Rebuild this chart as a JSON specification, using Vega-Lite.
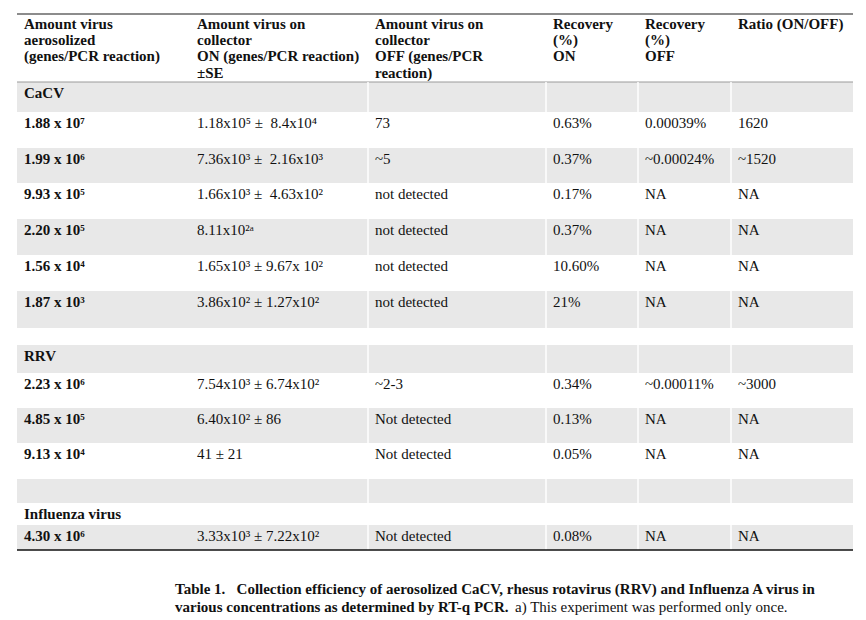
{
  "$schema": "https://vega.github.io/schema/vega-lite/v6.json",
  "width": 866,
  "height": 620,
  "padding": 0,
  "autosize": {"type": "none"},
  "background": "white",
  "config": {"view": {"stroke": null}},
  "datasets": {
    "cells": [
      {"row": 0, "col": 0, "kind": "header", "text": "Amount virus\naerosolized\n(genes/PCR reaction)"},
      {"row": 0, "col": 1, "kind": "header", "text": "Amount virus on\ncollector\nON (genes/PCR reaction)\n±SE"},
      {"row": 0, "col": 2, "kind": "header", "text": "Amount virus on\ncollector\nOFF (genes/PCR\nreaction)"},
      {"row": 0, "col": 3, "kind": "header", "text": "Recovery\n(%)\nON"},
      {"row": 0, "col": 4, "kind": "header", "text": "Recovery\n(%)\nOFF"},
      {"row": 0, "col": 5, "kind": "header", "text": "Ratio (ON/OFF)"},
      {"row": 1, "col": 0, "kind": "section", "text": "CaCV"},
      {"row": 2, "col": 0, "kind": "amount", "text": "1.88 x 10⁷"},
      {"row": 2, "col": 1, "kind": "value", "text": "1.18x10⁵ ±\u00a0 8.4x10⁴"},
      {"row": 2, "col": 2, "kind": "value", "text": "73"},
      {"row": 2, "col": 3, "kind": "value", "text": "0.63%"},
      {"row": 2, "col": 4, "kind": "value", "text": "0.00039%"},
      {"row": 2, "col": 5, "kind": "value", "text": "1620"},
      {"row": 3, "col": 0, "kind": "amount", "text": "1.99 x 10⁶"},
      {"row": 3, "col": 1, "kind": "value", "text": "7.36x10³ ±\u00a0 2.16x10³"},
      {"row": 3, "col": 2, "kind": "value", "text": "~5"},
      {"row": 3, "col": 3, "kind": "value", "text": "0.37%"},
      {"row": 3, "col": 4, "kind": "value", "text": "~0.00024%"},
      {"row": 3, "col": 5, "kind": "value", "text": "~1520"},
      {"row": 4, "col": 0, "kind": "amount", "text": "9.93 x 10⁵"},
      {"row": 4, "col": 1, "kind": "value", "text": "1.66x10³ ±\u00a0 4.63x10²"},
      {"row": 4, "col": 2, "kind": "value", "text": "not detected"},
      {"row": 4, "col": 3, "kind": "value", "text": "0.17%"},
      {"row": 4, "col": 4, "kind": "value", "text": "NA"},
      {"row": 4, "col": 5, "kind": "value", "text": "NA"},
      {"row": 5, "col": 0, "kind": "amount", "text": "2.20 x 10⁵"},
      {"row": 5, "col": 1, "kind": "value", "text": "8.11x10²ᵃ"},
      {"row": 5, "col": 2, "kind": "value", "text": "not detected"},
      {"row": 5, "col": 3, "kind": "value", "text": "0.37%"},
      {"row": 5, "col": 4, "kind": "value", "text": "NA"},
      {"row": 5, "col": 5, "kind": "value", "text": "NA"},
      {"row": 6, "col": 0, "kind": "amount", "text": "1.56 x 10⁴"},
      {"row": 6, "col": 1, "kind": "value", "text": "1.65x10³ ± 9.67x 10²"},
      {"row": 6, "col": 2, "kind": "value", "text": "not detected"},
      {"row": 6, "col": 3, "kind": "value", "text": "10.60%"},
      {"row": 6, "col": 4, "kind": "value", "text": "NA"},
      {"row": 6, "col": 5, "kind": "value", "text": "NA"},
      {"row": 7, "col": 0, "kind": "amount", "text": "1.87 x 10³"},
      {"row": 7, "col": 1, "kind": "value", "text": "3.86x10² ± 1.27x10²"},
      {"row": 7, "col": 2, "kind": "value", "text": "not detected"},
      {"row": 7, "col": 3, "kind": "value", "text": "21%"},
      {"row": 7, "col": 4, "kind": "value", "text": "NA"},
      {"row": 7, "col": 5, "kind": "value", "text": "NA"},
      {"row": 9, "col": 0, "kind": "section", "text": "RRV"},
      {"row": 10, "col": 0, "kind": "amount", "text": "2.23 x 10⁶"},
      {"row": 10, "col": 1, "kind": "value", "text": "7.54x10³ ± 6.74x10²"},
      {"row": 10, "col": 2, "kind": "value", "text": "~2-3"},
      {"row": 10, "col": 3, "kind": "value", "text": "0.34%"},
      {"row": 10, "col": 4, "kind": "value", "text": "~0.00011%"},
      {"row": 10, "col": 5, "kind": "value", "text": "~3000"},
      {"row": 11, "col": 0, "kind": "amount", "text": "4.85 x 10⁵"},
      {"row": 11, "col": 1, "kind": "value", "text": "6.40x10² ± 86"},
      {"row": 11, "col": 2, "kind": "value", "text": "Not detected"},
      {"row": 11, "col": 3, "kind": "value", "text": "0.13%"},
      {"row": 11, "col": 4, "kind": "value", "text": "NA"},
      {"row": 11, "col": 5, "kind": "value", "text": "NA"},
      {"row": 12, "col": 0, "kind": "amount", "text": "9.13 x 10⁴"},
      {"row": 12, "col": 1, "kind": "value", "text": "41 ± 21"},
      {"row": 12, "col": 2, "kind": "value", "text": "Not detected"},
      {"row": 12, "col": 3, "kind": "value", "text": "0.05%"},
      {"row": 12, "col": 4, "kind": "value", "text": "NA"},
      {"row": 12, "col": 5, "kind": "value", "text": "NA"},
      {"row": 14, "col": 0, "kind": "section", "text": "Influenza virus"},
      {"row": 15, "col": 0, "kind": "amount", "text": "4.30 x 10⁶"},
      {"row": 15, "col": 1, "kind": "value", "text": "3.33x10³ ± 7.22x10²"},
      {"row": 15, "col": 2, "kind": "value", "text": "Not detected"},
      {"row": 15, "col": 3, "kind": "value", "text": "0.08%"},
      {"row": 15, "col": 4, "kind": "value", "text": "NA"},
      {"row": 15, "col": 5, "kind": "value", "text": "NA"}
    ],
    "shaded": [{"row": 1}, {"row": 3}, {"row": 5}, {"row": 7}, {"row": 9}, {"row": 11}, {"row": 13}, {"row": 15}],
    "separators": [{"col": 2}, {"col": 3}, {"col": 4}, {"col": 5}],
    "caption": [
      {"row": 17, "part": "bold", "text": "Table 1.\u00a0\u00a0\u00a0Collection efficiency of aerosolized CaCV, rhesus rotavirus (RRV) and Influenza A virus in"},
      {"row": 18, "part": "bold", "text": "various concentrations as determined by RT-q PCR."},
      {"row": 18, "part": "regular", "text": "a) This experiment was performed only once."}
    ],
    "one": [{}]
  },
  "layer": [
    {
      "data": {"name": "shaded"},
      "transform": [{"calculate": "datum.row + 1", "as": "rowEnd"}],
      "mark": {"type": "rect", "color": "#e8e8e8"},
      "encoding": {
        "x": {"datum": 0, "type": "quantitative", "scale": {"domain": [0, 1, 2, 3, 4, 5, 6], "range": [17, 190, 368, 546, 638, 731, 853], "nice": false, "zero": false}, "axis": null},
        "x2": {"datum": 6},
        "y": {"field": "row", "type": "quantitative", "scale": {"domain": [0, 1, 2, 3, 4, 5, 6, 7, 8, 9, 10, 11, 12, 13, 14, 15, 16, 17, 18], "range": [15, 82, 112, 148, 183, 219, 255, 291, 328, 345, 373, 408, 443, 479, 503, 525, 550, 578, 596], "nice": false, "zero": false}, "axis": null},
        "y2": {"field": "rowEnd"}
      }
    },
    {
      "data": {"name": "one"},
      "mark": {"type": "rule", "color": "#8c8c8c", "strokeWidth": 2, "yOffset": -1},
      "encoding": {
        "x": {"datum": 0, "type": "quantitative", "scale": {"domain": [0, 1, 2, 3, 4, 5, 6], "range": [17, 190, 368, 546, 638, 731, 853], "nice": false, "zero": false}, "axis": null},
        "x2": {"datum": 6},
        "y": {"datum": 0, "type": "quantitative", "scale": {"domain": [0, 1, 2, 3, 4, 5, 6, 7, 8, 9, 10, 11, 12, 13, 14, 15, 16, 17, 18], "range": [15, 82, 112, 148, 183, 219, 255, 291, 328, 345, 373, 408, 443, 479, 503, 525, 550, 578, 596], "nice": false, "zero": false}, "axis": null}
      }
    },
    {
      "data": {"name": "one"},
      "mark": {"type": "rule", "color": "#9a9a9a", "strokeWidth": 1},
      "encoding": {
        "x": {"datum": 0, "type": "quantitative", "scale": {"domain": [0, 1, 2, 3, 4, 5, 6], "range": [17, 190, 368, 546, 638, 731, 853], "nice": false, "zero": false}, "axis": null},
        "x2": {"datum": 6},
        "y": {"datum": 1, "type": "quantitative", "scale": {"domain": [0, 1, 2, 3, 4, 5, 6, 7, 8, 9, 10, 11, 12, 13, 14, 15, 16, 17, 18], "range": [15, 82, 112, 148, 183, 219, 255, 291, 328, 345, 373, 408, 443, 479, 503, 525, 550, 578, 596], "nice": false, "zero": false}, "axis": null}
      }
    },
    {
      "data": {"name": "separators"},
      "mark": {"type": "rule", "color": "white", "strokeWidth": 1.5},
      "encoding": {
        "x": {"field": "col", "type": "quantitative", "scale": {"domain": [0, 1, 2, 3, 4, 5, 6], "range": [17, 190, 368, 546, 638, 731, 853], "nice": false, "zero": false}, "axis": null},
        "y": {"datum": 1, "type": "quantitative", "scale": {"domain": [0, 1, 2, 3, 4, 5, 6, 7, 8, 9, 10, 11, 12, 13, 14, 15, 16, 17, 18], "range": [15, 82, 112, 148, 183, 219, 255, 291, 328, 345, 373, 408, 443, 479, 503, 525, 550, 578, 596], "nice": false, "zero": false}, "axis": null},
        "y2": {"datum": 16}
      }
    },
    {
      "data": {"name": "one"},
      "mark": {"type": "rule", "color": "#111111", "strokeWidth": 1.5},
      "encoding": {
        "x": {"datum": 0, "type": "quantitative", "scale": {"domain": [0, 1, 2, 3, 4, 5, 6], "range": [17, 190, 368, 546, 638, 731, 853], "nice": false, "zero": false}, "axis": null},
        "x2": {"datum": 6},
        "y": {"datum": 16, "type": "quantitative", "scale": {"domain": [0, 1, 2, 3, 4, 5, 6, 7, 8, 9, 10, 11, 12, 13, 14, 15, 16, 17, 18], "range": [15, 82, 112, 148, 183, 219, 255, 291, 328, 345, 373, 408, 443, 479, 503, 525, 550, 578, 596], "nice": false, "zero": false}, "axis": null}
      }
    },
    {
      "data": {"name": "cells"},
      "transform": [{"filter": "datum.kind === 'header'"}],
      "mark": {"type": "text", "align": "left", "baseline": "top", "dx": 7, "dy": 1.5, "lineBreak": "\n", "lineHeight": 16.4, "font": "Liberation Serif", "fontSize": 15, "fontWeight": "bold", "color": "#111111"},
      "encoding": {
        "x": {"field": "col", "type": "quantitative", "scale": {"domain": [0, 1, 2, 3, 4, 5, 6], "range": [17, 190, 368, 546, 638, 731, 853], "nice": false, "zero": false}, "axis": null},
        "y": {"field": "row", "type": "quantitative", "scale": {"domain": [0, 1, 2, 3, 4, 5, 6, 7, 8, 9, 10, 11, 12, 13, 14, 15, 16, 17, 18], "range": [15, 82, 112, 148, 183, 219, 255, 291, 328, 345, 373, 408, 443, 479, 503, 525, 550, 578, 596], "nice": false, "zero": false}, "axis": null},
        "text": {"field": "text"}
      }
    },
    {
      "data": {"name": "cells"},
      "transform": [{"filter": "datum.kind === 'section' || datum.kind === 'amount'"}],
      "mark": {"type": "text", "align": "left", "baseline": "middle", "dx": 7, "dy": 11, "font": "Liberation Serif", "fontSize": 15, "fontWeight": "bold", "color": "#111111"},
      "encoding": {
        "x": {"field": "col", "type": "quantitative", "scale": {"domain": [0, 1, 2, 3, 4, 5, 6], "range": [17, 190, 368, 546, 638, 731, 853], "nice": false, "zero": false}, "axis": null},
        "y": {"field": "row", "type": "quantitative", "scale": {"domain": [0, 1, 2, 3, 4, 5, 6, 7, 8, 9, 10, 11, 12, 13, 14, 15, 16, 17, 18], "range": [15, 82, 112, 148, 183, 219, 255, 291, 328, 345, 373, 408, 443, 479, 503, 525, 550, 578, 596], "nice": false, "zero": false}, "axis": null},
        "text": {"field": "text"}
      }
    },
    {
      "data": {"name": "cells"},
      "transform": [{"filter": "datum.kind === 'value'"}],
      "mark": {"type": "text", "align": "left", "baseline": "middle", "dx": 7, "dy": 11, "font": "Liberation Serif", "fontSize": 15, "fontWeight": "normal", "color": "#111111"},
      "encoding": {
        "x": {"field": "col", "type": "quantitative", "scale": {"domain": [0, 1, 2, 3, 4, 5, 6], "range": [17, 190, 368, 546, 638, 731, 853], "nice": false, "zero": false}, "axis": null},
        "y": {"field": "row", "type": "quantitative", "scale": {"domain": [0, 1, 2, 3, 4, 5, 6, 7, 8, 9, 10, 11, 12, 13, 14, 15, 16, 17, 18], "range": [15, 82, 112, 148, 183, 219, 255, 291, 328, 345, 373, 408, 443, 479, 503, 525, 550, 578, 596], "nice": false, "zero": false}, "axis": null},
        "text": {"field": "text"}
      }
    },
    {
      "data": {"name": "caption"},
      "transform": [{"filter": "datum.part === 'bold'"}],
      "mark": {"type": "text", "align": "left", "baseline": "middle", "dx": -15, "dy": 11, "font": "Liberation Serif", "fontSize": 15, "fontWeight": "bold", "color": "#111111"},
      "encoding": {
        "x": {"datum": 1, "type": "quantitative", "scale": {"domain": [0, 1, 2, 3, 4, 5, 6], "range": [17, 190, 368, 546, 638, 731, 853], "nice": false, "zero": false}, "axis": null},
        "y": {"field": "row", "type": "quantitative", "scale": {"domain": [0, 1, 2, 3, 4, 5, 6, 7, 8, 9, 10, 11, 12, 13, 14, 15, 16, 17, 18], "range": [15, 82, 112, 148, 183, 219, 255, 291, 328, 345, 373, 408, 443, 479, 503, 525, 550, 578, 596], "nice": false, "zero": false}, "axis": null},
        "text": {"field": "text"}
      }
    },
    {
      "data": {"name": "caption"},
      "transform": [{"filter": "datum.part === 'regular'"}],
      "mark": {"type": "text", "align": "left", "baseline": "middle", "dx": 325, "dy": 11, "font": "Liberation Serif", "fontSize": 15, "fontWeight": "normal", "color": "#111111"},
      "encoding": {
        "x": {"datum": 1, "type": "quantitative", "scale": {"domain": [0, 1, 2, 3, 4, 5, 6], "range": [17, 190, 368, 546, 638, 731, 853], "nice": false, "zero": false}, "axis": null},
        "y": {"field": "row", "type": "quantitative", "scale": {"domain": [0, 1, 2, 3, 4, 5, 6, 7, 8, 9, 10, 11, 12, 13, 14, 15, 16, 17, 18], "range": [15, 82, 112, 148, 183, 219, 255, 291, 328, 345, 373, 408, 443, 479, 503, 525, 550, 578, 596], "nice": false, "zero": false}, "axis": null},
        "text": {"field": "text"}
      }
    }
  ]
}
